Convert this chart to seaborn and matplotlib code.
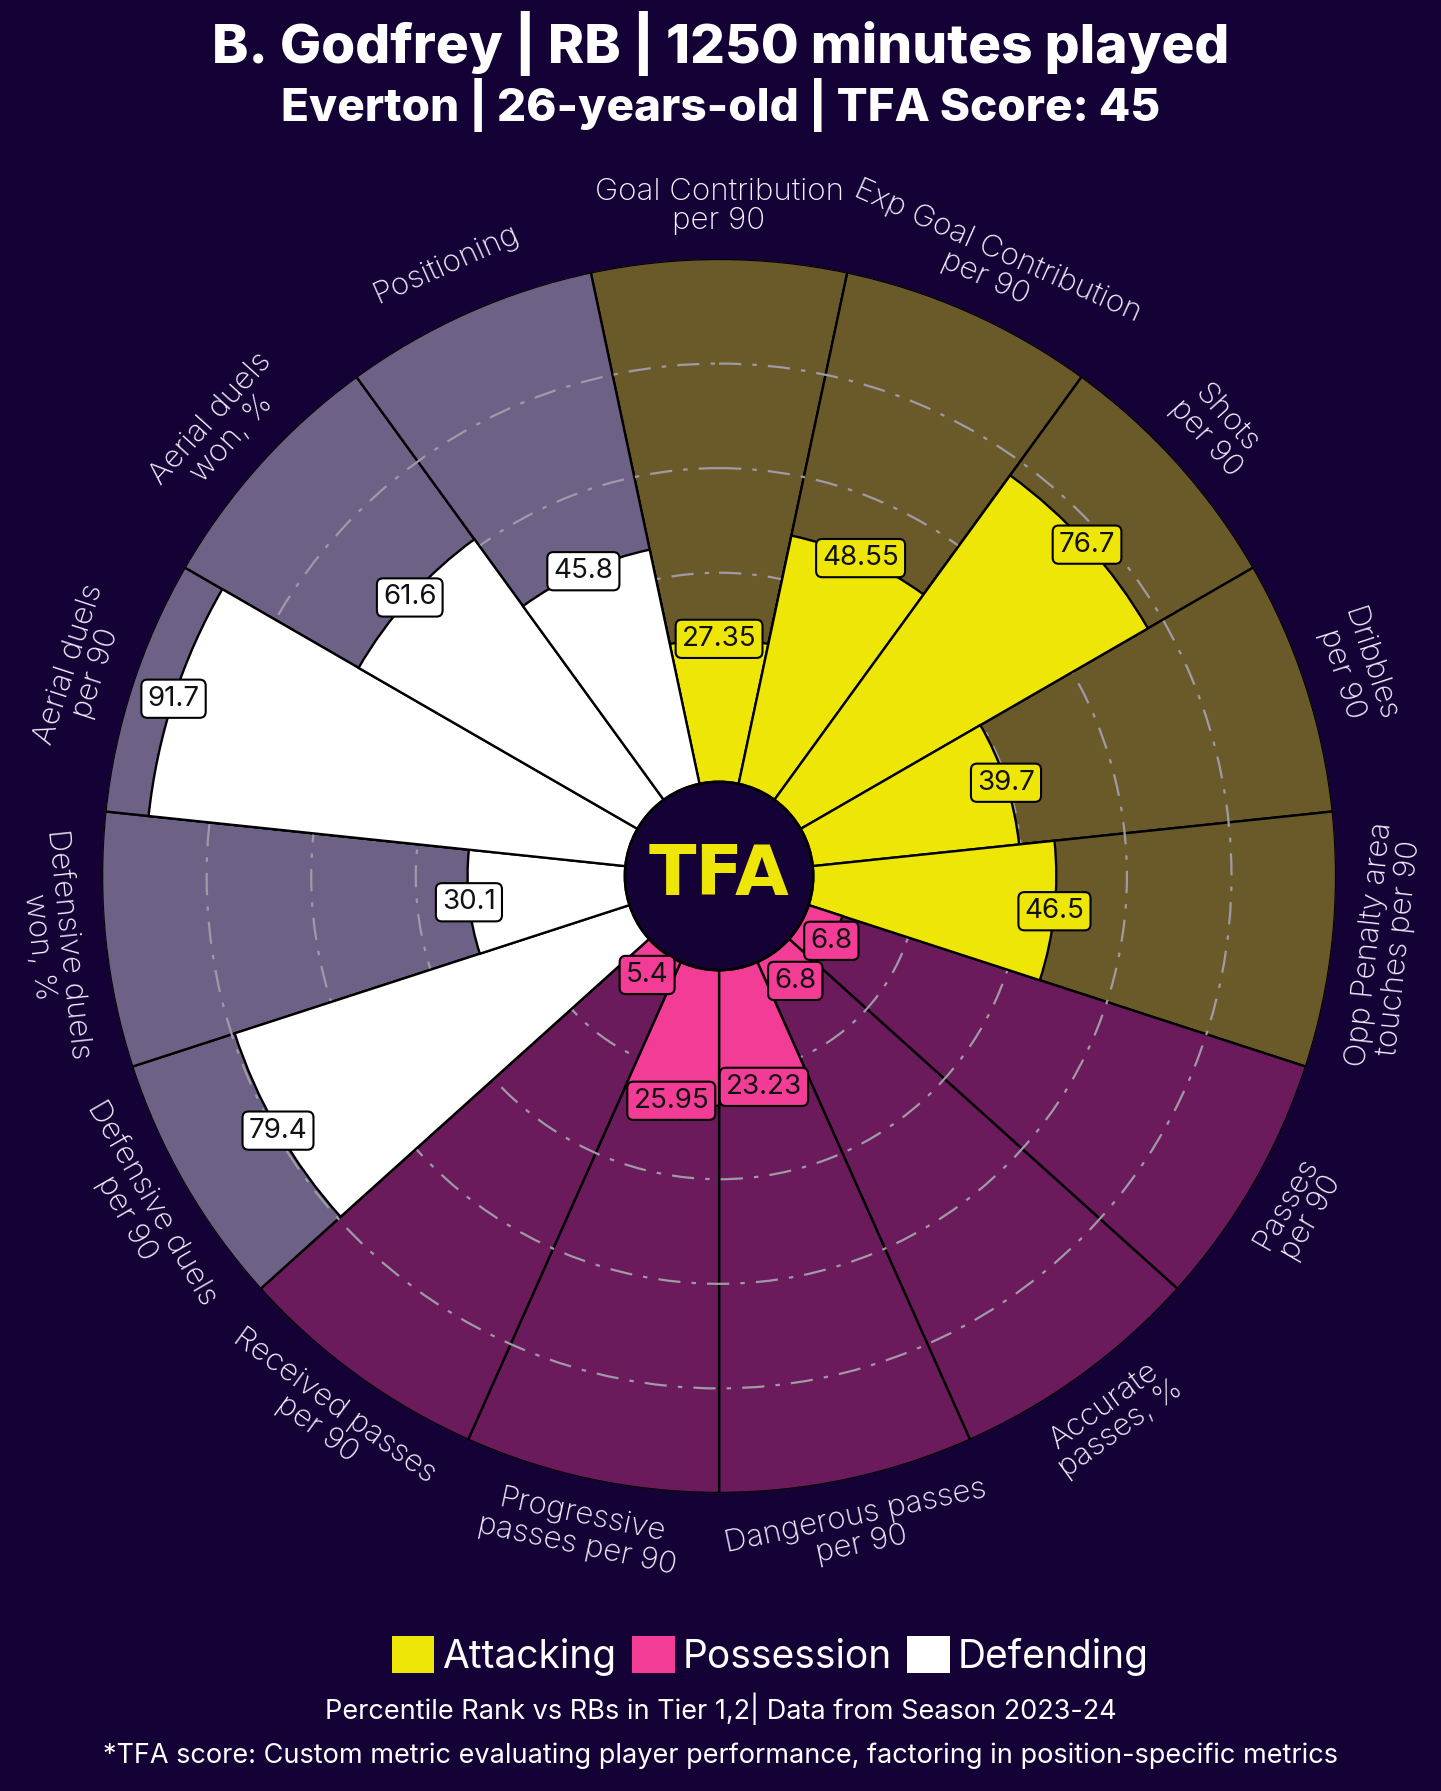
import numpy as np
import pandas as pd
import seaborn as sns
import matplotlib.pyplot as plt
from matplotlib.patches import Patch, Circle

# ---- data ----
params = [
    "Goal Contribution\nper 90", "Exp Goal Contribution\nper 90", "Shots\nper 90",
    "Dribbles\nper 90", "Opp Penalty area\ntouches per 90",
    "Passes\nper 90", "Accurate\npasses, %", "Dangerous passes\nper 90",
    "Progressive\npasses per 90", "Received passes\nper 90",
    "Defensive duels\nper 90", "Defensive duels\nwon, %", "Aerial duels\nper 90",
    "Aerial duels\nwon, %", "Positioning",
]
values = [27.35, 48.55, 76.7, 39.7, 46.5,
          6.8, 6.8, 23.23, 25.95, 5.4,
          79.4, 30.1, 91.7, 61.6, 45.8]
groups = ["Attacking"] * 5 + ["Possession"] * 5 + ["Defending"] * 5
group_names = ["Attacking", "Possession", "Defending"]

title = "B. Godfrey | RB | 1250 minutes played"
subtitle = "Everton | 26-years-old | TFA Score: 45"
footer1 = "Percentile Rank vs RBs in Tier 1,2| Data from Season 2023-24"
footer2 = ("*TFA score: Custom metric evaluating player performance, "
           "factoring in position-specific metrics")

# ---- style ----
BG = "#140236"
slice_colors = {"Attacking": "#eee606", "Possession": "#f23c96", "Defending": "#ffffff"}
back_colors = {"Attacking": "#6b5a29", "Possession": "#6b1a5b", "Defending": "#6e6186"}
LABEL_COLOR = "#f6f0ff"

sns.set_theme(style="dark", rc={"figure.facecolor": BG, "axes.facecolor": BG,
                                "savefig.facecolor": BG})
plt.rcParams["font.family"] = ["Inter", "DejaVu Sans"]

df = pd.DataFrame({"param": params, "value": values, "group": groups})
df["theta"] = np.deg2rad(np.arange(len(df)) * 360 / len(df))
width = 2 * np.pi / len(df)
INNER = 18.0

fig = plt.figure(figsize=(14.41, 17.91), dpi=100)
ax = fig.add_axes([0.0708, 0.1664, 0.8564, 0.689], projection="polar")
ax.set_facecolor(BG)
ax.set_theta_zero_location("N")
ax.set_theta_direction(-1)
ax.set_ylim(0, 100 + INNER)

# background slices and value slices
ax.bar(df["theta"], 100, width=width, bottom=INNER,
       color=df["group"].map(back_colors), edgecolor="black", linewidth=1.7, zorder=1)
ax.bar(df["theta"], df["value"], width=width, bottom=INNER,
       color=df["group"].map(slice_colors), edgecolor="black", linewidth=1.7, zorder=3)

# grid rings
ax.set_axisbelow("line")
ax.set_yticks([INNER + 20, INNER + 40, INNER + 60, INNER + 80])
ax.set_yticklabels([])
ax.set_xticks([])
ax.yaxis.grid(True, color="#9e9aa6", linestyle=(0, (10, 5, 2, 5)), linewidth=1.6)
ax.xaxis.grid(False)
ax.spines["polar"].set_visible(False)

# centre circle with logo
ax.add_patch(Circle((0.5, 0.5), 0.5 * INNER / (100 + INNER), transform=ax.transAxes,
                    facecolor=BG, edgecolor="black", linewidth=2, zorder=6))
ax.text(0.5, 0.5, "TFA", transform=ax.transAxes, ha="center", va="center",
        fontsize=50, fontweight="heavy", color="#eee606", zorder=7,
        family=["DejaVu Sans"])

# value boxes
for _, row in df.iterrows():
    ax.text(row["theta"], INNER + row["value"], f"{row['value']:g}",
            ha="center", va="center", fontsize=20, color="#111111", zorder=8,
            bbox=dict(boxstyle="round,pad=0.22", fc=slice_colors[row["group"]],
                      ec="black", lw=1.5))

# parameter labels
for _, row in df.iterrows():
    deg = np.rad2deg(row["theta"])
    rot = 180 - deg if 90 < deg < 270 else -deg
    ax.text(row["theta"], 128, row["param"], rotation=rot, rotation_mode="anchor",
            ha="center", va="center", fontsize=22.5, color=LABEL_COLOR,
            linespacing=1.05, fontweight="light")

# titles
fig.text(0.5, 1 - 43 / 1791, title, ha="center", va="center",
         fontsize=39.5, fontweight="heavy", color="white")
fig.text(0.5, 1 - 105 / 1791, subtitle, ha="center", va="center",
         fontsize=33, fontweight="heavy", color="white")

# legend
handles = [Patch(facecolor=slice_colors[g], edgecolor="none") for g in group_names]
fig.legend(handles, group_names, loc="center", bbox_to_anchor=(0.5345, 1 - 1656 / 1791),
           ncol=3, frameon=False, fontsize=28, handlelength=1.1, handleheight=1.1,
           handletextpad=0.2, columnspacing=0.4, labelcolor="white")

fig.text(0.5, 1 - 1709 / 1791, footer1, ha="center", va="center",
         fontsize=19.5, color="white")
fig.text(0.5, 1 - 1756 / 1791, footer2, ha="center", va="center",
         fontsize=19.5, color="white")

fig.savefig("out.png", dpi=100, facecolor=BG)
